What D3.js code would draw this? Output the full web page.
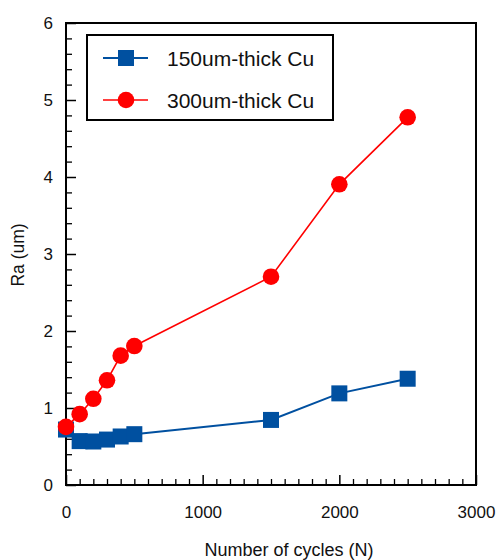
<!DOCTYPE html>
<html><head><meta charset="utf-8">
<script src="https://cdn.jsdelivr.net/npm/d3@7"></script>
<style>body{margin:0;background:#fff}svg{display:block}text{font-family:"Liberation Sans",Arial,sans-serif;fill:#111}</style>
</head><body><svg id="c" width="498" height="560"></svg>
<script>
const cycles150 = [0, 100, 200, 300, 400, 500, 1500, 2000, 2500];
const ra150 = [0.72, 0.57, 0.565, 0.59, 0.63, 0.66, 0.845, 1.19, 1.38];
const cycles300 = [0, 100, 200, 300, 400, 500, 1500, 2000, 2500];
const ra300 = [0.755, 0.92, 1.12, 1.36, 1.68, 1.805, 2.705, 3.905, 4.775];
const seriesNames = ["150um-thick Cu", "300um-thick Cu"];
const xMajor = [0, 1000, 2000, 3000];
const yMajor = [0, 1, 2, 3, 4, 5, 6];
const xTitle = "Number of cycles (N)";
const yTitle = "Ra (um)";

const svg = d3.select("#c");
const L = 66, R = 476, T = 23, B = 485;
const x = d3.scaleLinear().domain([0, 3000]).range([L, R]);
const y = d3.scaleLinear().domain([0, 6]).range([B, T]);
const blue = "#0050a0", red = "#ff0000";

// minor ticks
const xMinor = d3.range(0, 3001, 100).filter(v => v % 1000 !== 0);
const yMinor = d3.range(0, 6.001, 0.2).map(v => +v.toFixed(1)).filter(v => Math.abs(v - Math.round(v)) > 1e-6);
svg.append("g").attr("transform", `translate(0,${B})`)
  .call(d3.axisBottom(x).tickValues(xMinor).tickSize(-6).tickFormat(""))
  .call(g => g.select(".domain").remove())
  .selectAll("line").attr("stroke", "#000").attr("stroke-width", 1.3);
svg.append("g").attr("transform", `translate(${L},0)`)
  .call(d3.axisLeft(y).tickValues(yMinor).tickSize(-6).tickFormat(""))
  .call(g => g.select(".domain").remove())
  .selectAll("line").attr("stroke", "#000").attr("stroke-width", 1.3);

// major axes
const gx = svg.append("g").attr("transform", `translate(0,${B})`)
  .call(d3.axisBottom(x).tickValues(xMajor).tickSize(-10).tickPadding(21).tickFormat(d3.format("d")));
gx.select(".domain").remove();
gx.selectAll("line").attr("stroke", "#000").attr("stroke-width", 1.5);
gx.selectAll("text").attr("font-size", 17).attr("fill", "#111").style("font-family", '"Liberation Sans",Arial,sans-serif');

const gy = svg.append("g").attr("transform", `translate(${L},0)`)
  .call(d3.axisLeft(y).tickValues(yMajor).tickSize(-10).tickPadding(13).tickFormat(d3.format("d")));
gy.select(".domain").remove();
gy.selectAll("line").attr("stroke", "#000").attr("stroke-width", 1.5);
gy.selectAll("text").attr("font-size", 17).attr("fill", "#111").style("font-family", '"Liberation Sans",Arial,sans-serif');

// frame
svg.append("rect").attr("x", L).attr("y", T).attr("width", R - L).attr("height", B - T)
  .attr("fill", "none").attr("stroke", "#000").attr("stroke-width", 2);

// titles
svg.append("text").attr("x", 289).attr("y", 556).attr("text-anchor", "middle").attr("font-size", 18).text(xTitle);
svg.append("text").attr("transform", "translate(23.5,255) rotate(-90)").attr("text-anchor", "middle").attr("font-size", 17.5).text(yTitle);

const line = d3.line().x(d => x(d[0])).y(d => y(d[1]));
const d150 = cycles150.map((c, i) => [c, ra150[i]]);
const d300 = cycles300.map((c, i) => [c, ra300[i]]);

// blue series
svg.append("path").datum(d150).attr("d", line).attr("fill", "none").attr("stroke", blue).attr("stroke-width", 2);
svg.selectAll(".sq").data(d150).enter().append("rect")
  .attr("x", d => x(d[0]) - 8).attr("y", d => y(d[1]) - 8).attr("width", 16).attr("height", 16).attr("fill", blue);

// red series
svg.append("path").datum(d300).attr("d", line).attr("fill", "none").attr("stroke", red).attr("stroke-width", 1.6);
svg.selectAll(".ci").data(d300).enter().append("circle")
  .attr("cx", d => x(d[0])).attr("cy", d => y(d[1])).attr("r", 8.3).attr("fill", red);

// legend
const lg = svg.append("g");
lg.append("rect").attr("x", 87).attr("y", 35).attr("width", 246).attr("height", 85)
  .attr("fill", "#fff").attr("stroke", "#000").attr("stroke-width", 2);
const rows = [58, 100];
lg.append("line").attr("x1", 103).attr("x2", 148).attr("y1", rows[0]).attr("y2", rows[0]).attr("stroke", blue).attr("stroke-width", 2);
lg.append("rect").attr("x", 118).attr("y", rows[0] - 8).attr("width", 16).attr("height", 16).attr("fill", blue);
lg.append("line").attr("x1", 103).attr("x2", 148).attr("y1", rows[1]).attr("y2", rows[1]).attr("stroke", red).attr("stroke-width", 1.6);
lg.append("circle").attr("cx", 126).attr("cy", rows[1]).attr("r", 8.3).attr("fill", red);
seriesNames.forEach((n, i) => {
  lg.append("text").attr("x", 167).attr("y", rows[i] + 7.5).attr("font-size", 21).text(n);
});
</script></body></html>
